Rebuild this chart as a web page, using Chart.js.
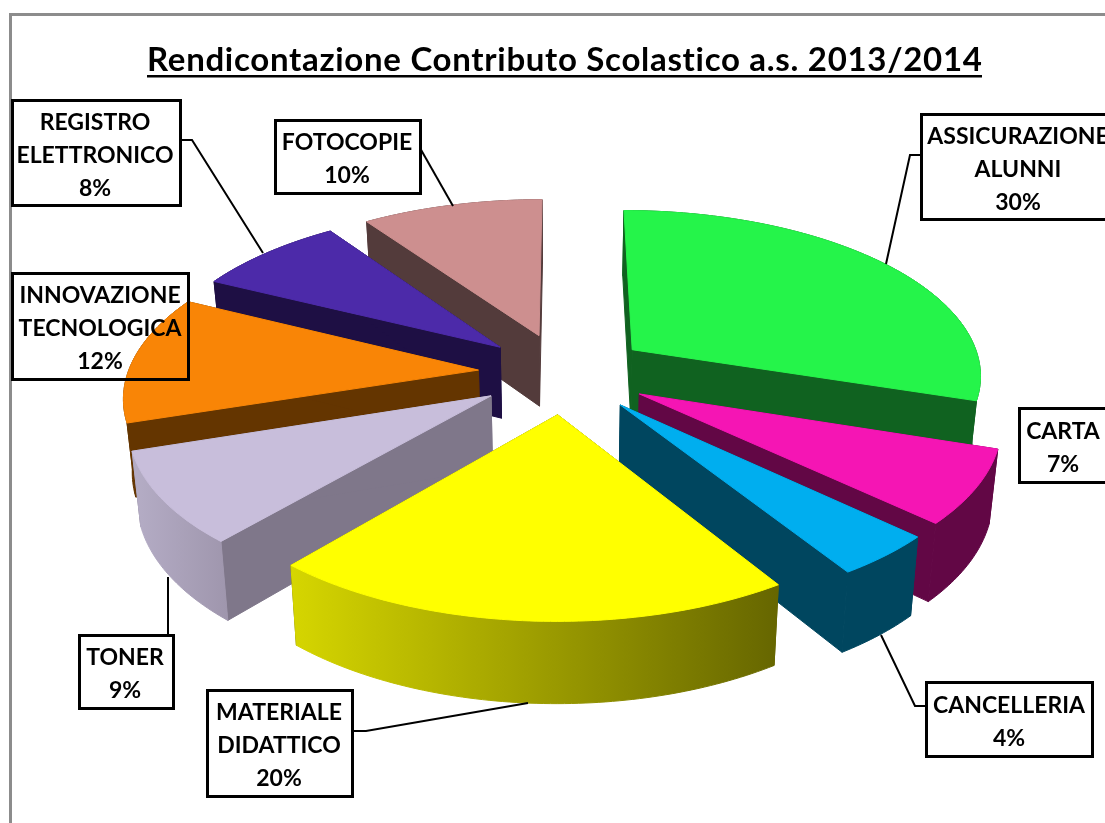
<!DOCTYPE html>
<html>
<head>
<meta charset="utf-8">
<title>Rendicontazione Contributo Scolastico</title>
<script src="https://cdn.jsdelivr.net/npm/chart.js@4"></script>
<style>
  html, body { margin: 0; padding: 0; background: #fff; overflow: hidden; }
  canvas { display: block; }
</style>
</head>
<body>
<canvas id="pieChart" width="1105" height="823"></canvas>
<script>
const chartTitle = 'Rendicontazione Contributo Scolastico a.s. 2013/2014';
const categories = ['ASSICURAZIONE ALUNNI', 'CARTA', 'CANCELLERIA', 'MATERIALE DIDATTICO', 'TONER', 'INNOVAZIONE TECNOLOGICA', 'REGISTRO ELETTRONICO', 'FOTOCOPIE'];
const shares = [30, 7, 4, 20.3, 8.7, 12.3, 8, 9.7];

const topColors = ['#25f44a', '#f515b4', '#00aeef', '#ffff00', '#c8bedb', '#f98506', '#4c2aa9', '#cd8f8f'];
const faceColors = ['#106220', '#620745', '#00465f', '#666600', '#7f778a', '#643500', '#1e0f44', '#533b3b'];
// outer wall goes left to right between these two, only yellow and lilac really shade
const wallLeft = ['#106220', '#620745', '#00465f', '#d6d600', '#b5adc6', '#643500', '#1e0f44', '#533b3b'];
const wallRight = ['#106220', '#620745', '#00465f', '#666600', '#9f96ad', '#643500', '#1e0f44', '#533b3b'];

// label boxes: left, top, right, bottom, text centre x
const labelBoxes = [
  [921, 114, 1125, 219, 1018],
  [1019, 408, 1125, 482, 1063],
  [926, 682, 1092, 756, 1009],
  [207, 690, 352, 796, 279],
  [79, 635, 173, 708, 125],
  [12, 273, 188, 379, 100],
  [12, 100, 180, 205, 95],
  [275, 120, 420, 193, 347]
];
const leaders = [
  [[921, 155], [910, 155], [886, 264]],
  [],
  [[926, 706], [915, 706], [881, 635]],
  [[352, 731], [366, 731], [528, 703]],
  [[168, 635], [168, 577]],
  [],
  [[180, 140], [192, 140], [263, 253]],
  [[420, 148], [453, 206]]
];

// view used to tilt the flat pie
const view = { cx: 564, cy: 373, tilt: 0.47, persp: 0.0004, depth: 72, shrink: 0.98 };

function project(x, y, low) {
  const s = 1 / (1 - view.persp * y);
  const f = low ? view.shrink : 1;
  return [view.cx + x * s * f, view.cy + view.tilt * y * s * f + (low ? view.depth * s : 0)];
}

function fillPoly(ctx, pts, fill) {
  ctx.beginPath();
  pts.forEach((p, i) => i ? ctx.lineTo(p[0], p[1]) : ctx.moveTo(p[0], p[1]));
  ctx.closePath();
  ctx.fillStyle = fill;
  ctx.strokeStyle = fill;
  ctx.lineWidth = 1;
  ctx.fill();
  ctx.stroke();
}

function drawSlice(ctx, arc, i) {
  const mid = (arc.startAngle + arc.endAngle) / 2;
  const off = arc.options.offset;
  const ox = Math.cos(mid) * off;
  const oy = Math.sin(mid) * off;
  const r = arc.outerRadius;
  const steps = Math.ceil((arc.endAngle - arc.startAngle) * 60);

  const rim = [];
  for (let k = 0; k <= steps; k++) {
    const a = arc.startAngle + (arc.endAngle - arc.startAngle) * k / steps;
    rim.push([ox + Math.cos(a) * r, oy + Math.sin(a) * r]);
  }
  const first = rim[0];
  const last = rim[rim.length - 1];
  const high = p => project(p[0], p[1], false);
  const low = p => project(p[0], p[1], true);

  // cut faces
  fillPoly(ctx, [high([ox, oy]), high(first), low(first), low([ox, oy])], faceColors[i]);
  fillPoly(ctx, [high([ox, oy]), high(last), low(last), low([ox, oy])], faceColors[i]);

  // outer wall
  const wall = rim.map(high).concat(rim.slice().reverse().map(low));
  const xs = wall.map(p => p[0]);
  const grad = ctx.createLinearGradient(Math.min(...xs), 0, Math.max(...xs), 0);
  grad.addColorStop(0, wallLeft[i]);
  grad.addColorStop(1, wallRight[i]);
  fillPoly(ctx, wall, grad);

  // top
  fillPoly(ctx, [high([ox, oy])].concat(rim.map(high)), arc.options.backgroundColor);
}

const tiltedPie = {
  id: 'tiltedPie',
  beforeDraw(chart) {
    const ctx = chart.ctx;
    ctx.save();
    ctx.fillStyle = '#ffffff';
    ctx.fillRect(0, 0, chart.width, chart.height);
    ctx.strokeStyle = '#8c8c8c';
    ctx.lineWidth = 3;
    ctx.strokeRect(10.5, 14.5, 2000, 2000);
    // box backgrounds sit under the pie, the orange slice runs over one of them
    ctx.fillStyle = '#ffffff';
    labelBoxes.forEach(b => ctx.fillRect(b[0], b[1], b[2] - b[0], b[3] - b[1]));
    ctx.restore();
  },
  beforeDatasetDraw(chart, args) {
    const ctx = chart.ctx;
    const arcs = chart.getDatasetMeta(args.index).data;
    const order = arcs.map((a, i) => i).sort((a, b) =>
      Math.sin((arcs[a].startAngle + arcs[a].endAngle) / 2) - Math.sin((arcs[b].startAngle + arcs[b].endAngle) / 2));
    ctx.save();
    order.forEach(i => drawSlice(ctx, arcs[i], i));
    ctx.restore();
    return false;
  },
  afterDraw(chart) {
    const ctx = chart.ctx;
    ctx.save();
    ctx.strokeStyle = '#000000';
    ctx.fillStyle = '#000000';
    ctx.lineWidth = 2;

    leaders.forEach(line => {
      if (!line.length) return;
      ctx.beginPath();
      line.forEach((p, i) => i ? ctx.lineTo(p[0], p[1]) : ctx.moveTo(p[0], p[1]));
      ctx.stroke();
    });

    ctx.textAlign = 'center';
    ctx.textBaseline = 'middle';
    ctx.font = 'bold 23px Lato';
    categories.forEach((name, i) => {
      const b = labelBoxes[i];
      ctx.lineWidth = 3;
      ctx.strokeRect(b[0] + 0.5, b[1] + 0.5, b[2] - b[0], b[3] - b[1]);
      const lines = name.split(' ').concat(Math.round(shares[i]) + '%');
      const mid = (b[1] + b[3]) / 2;
      lines.forEach((t, k) => ctx.fillText(t, b[4], mid + 3 + (k - (lines.length - 1) / 2) * 33));
    });

    ctx.font = 'bold 33px Lato';
    ctx.letterSpacing = '0.7px';
    ctx.textAlign = 'left';
    ctx.textBaseline = 'alphabetic';
    ctx.fillText(chartTitle, 147, 71);
    ctx.fillRect(147, 75, 835, 2.5);
    ctx.restore();
  }
};

new Chart(document.getElementById('pieChart').getContext('2d'), {
  type: 'pie',
  data: {
    labels: categories,
    datasets: [{
      data: shares,
      backgroundColor: topColors,
      borderWidth: 0,
      offset: 86
    }]
  },
  options: {
    responsive: false,
    animation: false,
    layout: { padding: 18 },
    plugins: {
      legend: { display: false },
      title: { display: false },
      tooltip: { enabled: false }
    }
  },
  plugins: [tiltedPie]
});
</script>
</body>
</html>
